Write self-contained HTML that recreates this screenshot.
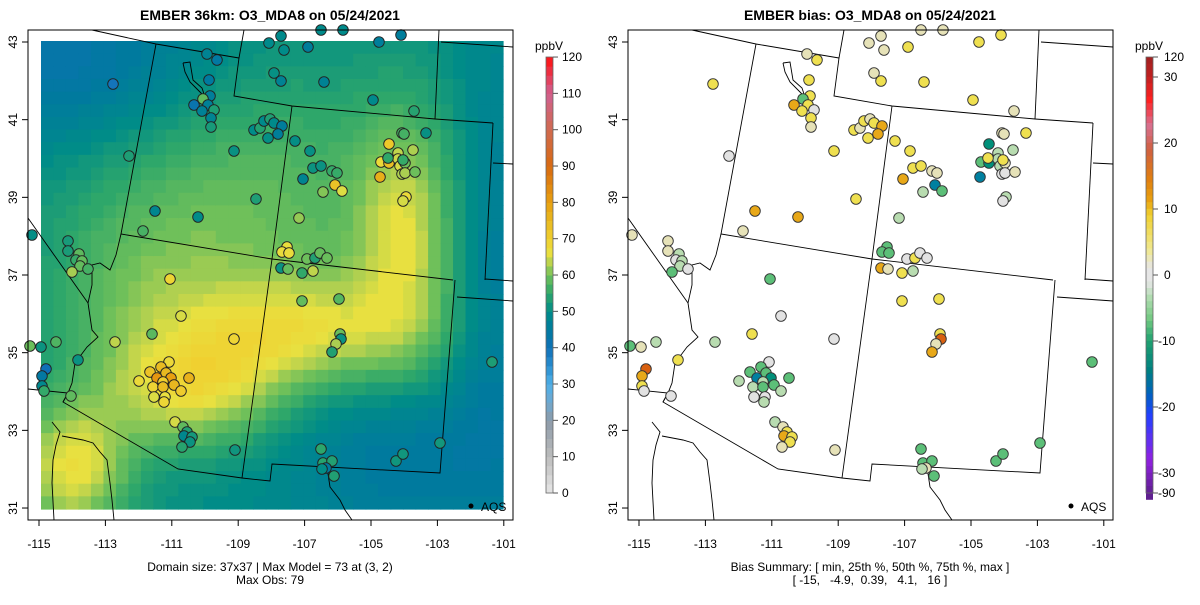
<!DOCTYPE html>
<html><head><meta charset="utf-8">
<style>
html,body{margin:0;padding:0;background:#fff;}
svg text{font-family:"Liberation Sans",sans-serif;fill:#000;}
</style></head>
<body>
<svg id="s" width="1200" height="600" viewBox="0 0 1200 600" xmlns="http://www.w3.org/2000/svg">
<rect width="1200" height="600" fill="#fff"/>
<g id="L"></g><g id="R"></g><g id="T">
<text x="270" y="20" font-size="14" font-weight="bold" text-anchor="middle">EMBER 36km: O3_MDA8 on 05/24/2021</text>
<text x="870" y="20" font-size="14" font-weight="bold" text-anchor="middle">EMBER bias: O3_MDA8 on 05/24/2021</text>
<text x="270" y="571" font-size="12" text-anchor="middle">Domain size: 37x37 | Max Model = 73 at (3, 2)</text>
<text x="270" y="584" font-size="12" text-anchor="middle">Max Obs: 79</text>
<text x="870" y="571" font-size="12" text-anchor="middle">Bias Summary: [ min, 25th %, 50th %, 75th %, max ]</text>
<text x="870" y="584" font-size="12" text-anchor="middle" xml:space="preserve">[ -15,   -4.9,  0.39,   4.1,   16 ]</text>
<text x="549" y="50" font-size="12" text-anchor="middle">ppbV</text>
<text x="1149" y="50" font-size="12" text-anchor="middle">ppbV</text>
</g>
</svg>
<script>
var NS="http://www.w3.org/2000/svg";
function el(p,t,a,txt){var e=document.createElementNS(NS,t);for(var k in a)e.setAttribute(k,a[k]);if(txt!==undefined)e.textContent=txt;p.appendChild(e);return e;}
function g(lon,lat,x0,y0,sx,sy){var a=(lon-x0)/sx,b=(lat-y0)/sy;return Math.exp(-(a*a+b*b)/2);}
function field(lon,lat){
 var v=50;
 v-=8*g(lon,lat,-114,42.5,3,1.5);
 v+=9*g(lon,lat,-108.5,38.5,3.5,2.8);
 v+=12*g(lon,lat,-104,38,1.0,2.2);
 v+=12*g(lon,lat,-107,35.5,2.5,1.0);
 v+=12*g(lon,lat,-110.3,34.0,1.8,1.0);
 v+=16*g(lon,lat,-114,32,1.2,1.2);
 v-=6*g(lon,lat,-104,32.3,2.5,1.5);
 v+=6*g(lon,lat,-112,36,2,2);
 v-=5*g(lon,lat,-101.3,37,0.8,4);
 return Math.max(38,Math.min(73,v));
}
var stops=[[0,"#e6e6e6"],[10,"#bdbdbd"],[20,"#8c9aa8"],[25,"#6fa8d0"],[30,"#4fb0e8"],[35,"#2a8fd0"],[40,"#1070b8"],[45,"#007a9e"],[50,"#008c88"],[55,"#2ea76a"],[60,"#6fc05a"],[63,"#b0d050"],[66,"#e8e040"],[70,"#f0d030"],[75,"#e8b820"],[80,"#e8a010"],[90,"#d86a10"],[100,"#d06a50"],[110,"#d06090"],[120,"#ff1010"]];
function hx(h){return [parseInt(h.substr(1,2),16),parseInt(h.substr(3,2),16),parseInt(h.substr(5,2),16)];}
function cmap(v){
 if(v<=0)return stops[0][1];
 for(var i=1;i<stops.length;i++){if(v<=stops[i][0]){var a=stops[i-1],b=stops[i],t=(v-a[0])/(b[0]-a[0]);var c1=hx(a[1]),c2=hx(b[1]);
 return "rgb("+Math.round(c1[0]+(c2[0]-c1[0])*t)+","+Math.round(c1[1]+(c2[1]-c1[1])*t)+","+Math.round(c1[2]+(c2[2]-c1[2])*t)+")";}}
 return stops[stops.length-1][1];}
function px2ll(x,y){return [-115+(x-39)/33.2,43-(y-42)/38.8];}
var L=document.getElementById("L"),R=document.getElementById("R");
var gx0=41,gx1=503,gy0=41,gy1=509,n=37,cw=(gx1-gx0)/n,ch=(gy1-gy0)/n;
for(var i=0;i<n;i++)for(var j=0;j<n;j++){var x=gx0+i*cw,y=gy0+j*ch;var ll=px2ll(x+cw/2,y+ch/2);
 var v=Math.round(field(ll[0],ll[1]));el(L,"rect",{x:x.toFixed(2),y:y.toFixed(2),width:(cw+0.6).toFixed(2),height:(ch+0.6).toFixed(2),fill:cmap(v)});}
// map lines in right-panel coordinates
var lines=[
[[692,30],[756,44],[839,58]],
[[844,30],[839,58],[834,96],[892,106],[1035,119],[1093,123]],
[[1039,30],[1035,119]],
[[1041,42],[1113,47]],
[[1093,123],[1085,280]],
[[1093,163],[1113,164]],
[[1085,279],[1113,281]],
[[756,44],[721,234],[872,259],[1053,280]],
[[892,106],[872,259],[842,478]],
[[1055,280],[1040,473],[872,464],[870,481],[842,478],[778,469],[663,402],[668,393],[628,389]],
[[1057,297],[1113,301]],
[[628,218],[688,303]],
[[721,234],[716,255],[710,270],[700,263],[692,265],[692,285],[688,303],[692,330],[698,337],[687,347],[675,363],[672,383],[668,393],[663,402]],
[[652,422],[660,432],[656,445],[653,460],[652,483],[654,520]],
[[662,436],[683,440],[693,443],[700,452],[707,460],[710,483],[712,500],[714,520]],
[[927,467],[930,487],[940,500],[945,510],[952,520]],
[[783,63],[790,62],[793,80],[802,88],[805,97],[800,92],[790,82],[785,72],[783,63]]
];
function drawLines(p,dx){lines.forEach(function(l){el(p,"polyline",{points:l.map(function(q){return (q[0]+dx)+","+q[1];}).join(" "),fill:"none",stroke:"#000","stroke-width":"0.9"});});}
drawLines(L,-600);drawLines(R,0);
var B={Y:6,O:10,R:14,L:2,G:0,P:-3,M:-7,T:-12,B:-15};
var BC={Y:"#efe050",O:"#e8a818",R:"#d86010",L:"#e6e2b8",G:"#e2e2e2",P:"#b8dcb0",M:"#5cbf78",T:"#00907a",B:"#0080a0"};
var st="881,36,L;921,30,L;943,30,L;869,43,L;884,50,L;908,47,Y;979,42,Y;1001,35,Y;874,73,L;881,81,Y;924,82,Y;973,100,Y;1014,111,L;713,84,Y;807,54,L;817,60,Y;809,80,Y;810,96,Y;794,105,O;803,99,M;808,105,Y;814,110,G;802,111,Y;811,118,Y;811,127,L;729,156,G;834,151,Y;854,130,Y;860,128,L;864,121,Y;870,119,L;874,123,Y;882,126,O;878,134,O;868,138,Y;895,141,Y;910,151,Y;913,168,Y;921,166,Y;903,179,O;932,171,L;937,173,L;935,185,B;942,191,M;923,192,P;989,144,T;981,162,M;989,163,T;980,177,B;998,153,P;998,159,P;1000,166,P;1005,163,L;1002,174,G;1005,173,G;1013,150,P;1015,172,L;1002,133,L;1004,134,L;1026,133,Y;1006,197,P;1003,201,G;856,199,Y;899,218,P;755,211,O;798,217,O;743,231,L;632,235,L;668,241,L;668,251,L;679,254,P;676,260,G;682,261,P;680,266,P;688,269,G;672,272,M;770,279,M;887,247,M;882,252,M;889,253,M;907,259,G;915,258,Y;920,253,G;927,258,G;881,268,O;888,269,L;902,273,Y;913,271,P;781,316,G;752,334,Y;715,342,P;656,342,P;641,347,L;630,346,M;678,360,Y;646,369,R;642,376,O;642,386,Y;644,391,G;671,396,G;834,339,G;902,301,Y;939,299,Y;940,334,Y;941,339,R;936,344,L;932,352,O;769,362,G;761,367,M;750,372,M;766,373,M;757,378,B;771,378,T;763,382,P;774,385,M;789,378,M;739,381,P;753,387,P;763,387,M;781,391,P;754,397,G;765,397,G;764,402,P;775,422,P;783,427,L;787,432,Y;784,436,O;792,437,Y;790,442,Y;782,447,L;835,450,L;921,449,M;923,463,M;932,461,M;926,468,L;922,469,P;934,476,M;996,461,M;1003,454,M;1040,443,M;1092,362,M;1003,160,Y;988,158,Y";
st.split(";").forEach(function(s){var a=s.split(",");var x=+a[0],y=+a[1],c=a[2];
 var lx=x-600;var ll=px2ll(lx,y);var obs=field(ll[0],ll[1])-B[c];
 el(L,"circle",{cx:lx,cy:y,r:5.3,fill:cmap(obs),stroke:"#222","stroke-width":"0.9"});
 el(R,"circle",{cx:x,cy:y,r:5.3,fill:BC[c],stroke:"#333","stroke-width":"0.9"});
});
[0,600].forEach(function(dx){
 var p=dx?R:L;
 el(p,"rect",{x:28+dx,y:30,width:485,height:490,fill:"none",stroke:"#000","stroke-width":"1"});
 el(p,"circle",{cx:471+dx,cy:506,r:2.5,fill:"#000"});
 el(p,"text",{x:481+dx,y:511,"font-size":"12"},"AQS");
 for(var k=0;k<8;k++){var x=39+k*66.4+dx;el(p,"line",{x1:x,y1:520,x2:x,y2:526,stroke:"#000"});el(p,"text",{x:x,y:548,"font-size":"12","text-anchor":"middle"},String(-115+2*k));}
 for(var k=0;k<7;k++){var y=42+k*77.67;el(p,"line",{x1:22+dx,y1:y,x2:28+dx,y2:y,stroke:"#000"});el(p,"text",{x:0,y:0,"font-size":"12","text-anchor":"middle",transform:"translate("+(17+dx)+","+y+") rotate(-90)"},String(43-2*k));}
});
for(var v=0;v<120;v+=2.5){var y1=493-(v+2.5)*3.633,c=cmap(v+1.25);el(L,"rect",{x:546,y:y1.toFixed(2),width:7,height:9.6,fill:c});}
el(L,"rect",{x:546,y:57,width:7,height:436,fill:"none",stroke:"#666","stroke-width":"0.8"});
for(var k=0;k<=12;k++){var y=493-k*36.33;el(L,"line",{x1:553,y1:y,x2:558,y2:y,stroke:"#555"});el(L,"text",{x:562,y:y+4,"font-size":"12"},String(k*10));}
var bs=[[57,"#a02020"],[77,"#c02020"],[100,"#ff2020"],[125,"#d87090"],[150,"#d06040"],[180,"#e08010"],[200,"#e8a010"],[215,"#f0d030"],[250,"#f0e890"],[268,"#e6e6e6"],[282,"#e6e6e6"],[298,"#b0dcb0"],[320,"#70c880"],[341,"#20a070"],[370,"#008080"],[395,"#0060c0"],[415,"#2040ff"],[440,"#6030f0"],[460,"#9020e0"],[493,"#602090"]];
function bcol(y){for(var i=1;i<bs.length;i++){if(y<=bs[i][0]){var a=bs[i-1],b=bs[i],t=(y-a[0])/(b[0]-a[0]);var c1=hx(a[1]),c2=hx(b[1]);return "rgb("+Math.round(c1[0]+(c2[0]-c1[0])*t)+","+Math.round(c1[1]+(c2[1]-c1[1])*t)+","+Math.round(c1[2]+(c2[2]-c1[2])*t)+")";}}return bs[bs.length-1][1];}
for(var y=57;y<493;y+=6.6){el(R,"rect",{x:1146,y:y.toFixed(2),width:7,height:7.2,fill:bcol(y+3.3)});}
el(R,"rect",{x:1146,y:57,width:7,height:436,fill:"none",stroke:"#666","stroke-width":"0.8"});
[[57,"120"],[77,"30"],[143,"20"],[209,"10"],[275,"0"],[341,"-10"],[407,"-20"],[473,"-30"],[493,"-90"]].forEach(function(t){el(R,"line",{x1:1153,y1:t[0],x2:1158,y2:t[0],stroke:"#555"});el(R,"text",{x:t[1][0]=="-"?1158:1164,y:t[0]+4,"font-size":"12"},t[1]);});
</script>
</body></html>
